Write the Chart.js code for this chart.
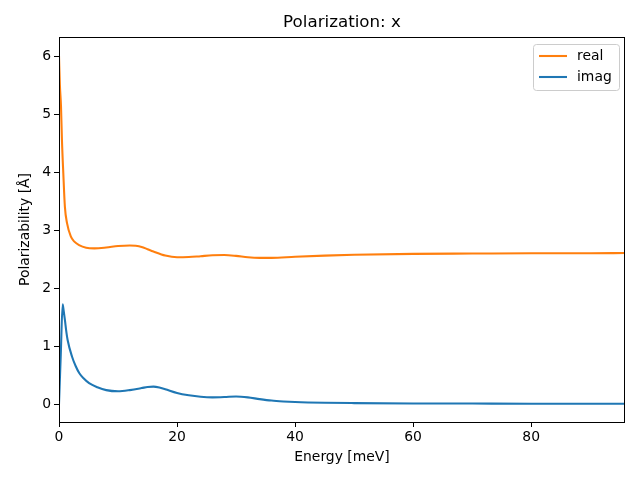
<!DOCTYPE html>
<html><head><meta charset="utf-8">
<script src="https://cdn.jsdelivr.net/npm/chart.js@4/dist/chart.umd.min.js"></script>
<style>html,body{margin:0;padding:0;background:#fff}#wrap{width:640px;height:480px}</style>
</head><body><div id="wrap"><canvas id="c" width="640" height="480"></canvas></div>
<script>
const energyReal = [0,0.15,0.34,0.5,0.73,1.0,1.36,2.0,2.6,3.4,4.6,6,8,10,12,13,14,15,16,18,20,22,24,26,28,30,32,34,36,40,45,50,60,70,80,90,96];
const realVals   = [6.0,5.5,5.13,4.55,3.98,3.4,3.12,2.89,2.8,2.74,2.695,2.685,2.70,2.725,2.735,2.73,2.71,2.67,2.63,2.56,2.53,2.535,2.55,2.565,2.57,2.555,2.53,2.52,2.52,2.54,2.56,2.575,2.59,2.595,2.6,2.6,2.605];
const energyImag = [0,0.3,0.62,0.8,1.0,1.2,1.47,2.2,2.8,3.45,4.2,5.1,6.5,8,10,12,14,15,16,17,18,20,22,24,26,28,30,32,34,36,38,40,45,50,60,70,80,90,96];
const imagVals   = [0,0.85,1.72,1.6,1.45,1.28,1.10,0.82,0.66,0.53,0.44,0.36,0.29,0.24,0.22,0.24,0.275,0.295,0.30,0.285,0.255,0.19,0.15,0.125,0.115,0.12,0.13,0.115,0.085,0.06,0.045,0.035,0.022,0.016,0.01,0.008,0.006,0.005,0.004];
const xTicks = [0,20,40,60,80];
const yTicks = [0,1,2,3,4,5,6];
const seriesNames = ['real','imag'];
const seriesColors = ['#ff7f0e','#1f77b4'];
const titleText = 'Polarization: x';
const xLabel = 'Energy [meV]';
const yLabel = 'Polarizability [Å]';

const FONT = 'DejaVu Sans';
const toPts = (xs, ys) => xs.map((x,i)=>({x:x,y:ys[i]}));

const decor = {
  id:'decor',
  afterDraw(chart){
    const ctx = chart.ctx, a = chart.chartArea;
    ctx.save();
    ctx.strokeStyle = '#000'; ctx.lineWidth = 1;
    ctx.strokeRect(Math.round(a.left)+0.5, Math.round(a.top)+0.5, Math.round(a.right-a.left)-1, Math.round(a.bottom-a.top));
    ctx.fillStyle = '#000';
    ctx.textAlign = 'center'; ctx.textBaseline = 'middle';
    ctx.font = '16.7px "' + FONT + '"';
    ctx.fillText(titleText, (a.left+a.right)/2, 23);
    ctx.font = '13.9px "' + FONT + '"';
    ctx.fillText(xLabel, (a.left+a.right)/2, 457);
    ctx.save();
    ctx.translate(25, (a.top+a.bottom)/2);
    ctx.rotate(-Math.PI/2);
    ctx.fillText(yLabel, 0, 0);
    ctx.restore();
    // legend
    const bx=533.5, by=44.5, bw=86, bh=46, r=3;
    ctx.beginPath();
    ctx.moveTo(bx+r,by); ctx.lineTo(bx+bw-r,by); ctx.quadraticCurveTo(bx+bw,by,bx+bw,by+r);
    ctx.lineTo(bx+bw,by+bh-r); ctx.quadraticCurveTo(bx+bw,by+bh,bx+bw-r,by+bh);
    ctx.lineTo(bx+r,by+bh); ctx.quadraticCurveTo(bx,by+bh,bx,by+bh-r);
    ctx.lineTo(bx,by+r); ctx.quadraticCurveTo(bx,by,bx+r,by);
    ctx.closePath();
    ctx.fillStyle='rgba(255,255,255,0.8)'; ctx.fill();
    ctx.strokeStyle='#cccccc'; ctx.stroke();
    ctx.textAlign='left';
    chart.data.datasets.forEach((ds,i)=>{
      const yy = 56 + i*21;
      ctx.strokeStyle = ds.borderColor; ctx.lineWidth = 2.08;
      ctx.beginPath(); ctx.moveTo(539,yy); ctx.lineTo(567,yy); ctx.stroke();
      ctx.fillStyle='#000';
      ctx.fillText(ds.label, 577, yy);
    });
    ctx.restore();
  }
};

new Chart(document.getElementById('c'), {
  type:'line',
  data:{datasets:[
    {label:seriesNames[0], data:toPts(energyReal, realVals), borderColor:seriesColors[0], borderWidth:2.08, pointRadius:0, cubicInterpolationMode:'monotone', fill:false},
    {label:seriesNames[1], data:toPts(energyImag, imagVals), borderColor:seriesColors[1], borderWidth:2.08, pointRadius:0, cubicInterpolationMode:'monotone', fill:false}
  ]},
  options:{
    responsive:false, animation:false, devicePixelRatio:1,
    layout:{padding:{top:37,right:15,left:0,bottom:0}},
    plugins:{legend:{display:false}, title:{display:false}, tooltip:{enabled:false}},
    scales:{
      x:{type:'linear', min:0, max:95.9,
        afterBuildTicks:s=>{s.ticks = xTicks.map(v=>({value:v}));},
        afterFit:s=>{s.height=58;},
        grid:{drawOnChartArea:false, drawTicks:true, tickLength:5, color:'#000'},
        border:{display:false},
        ticks:{color:'#000', font:{family:FONT,size:13.9}, padding:2, maxRotation:0}
      },
      y:{type:'linear', min:-0.31, max:6.33,
        afterBuildTicks:s=>{s.ticks = yTicks.map(v=>({value:v}));},
        afterFit:s=>{s.width=59;},
        grid:{drawOnChartArea:false, drawTicks:true, tickLength:5, color:'#000'},
        border:{display:false},
        ticks:{color:'#000', font:{family:FONT,size:13.9}, padding:3}
      }
    }
  },
  plugins:[decor]
});
</script></body></html>
